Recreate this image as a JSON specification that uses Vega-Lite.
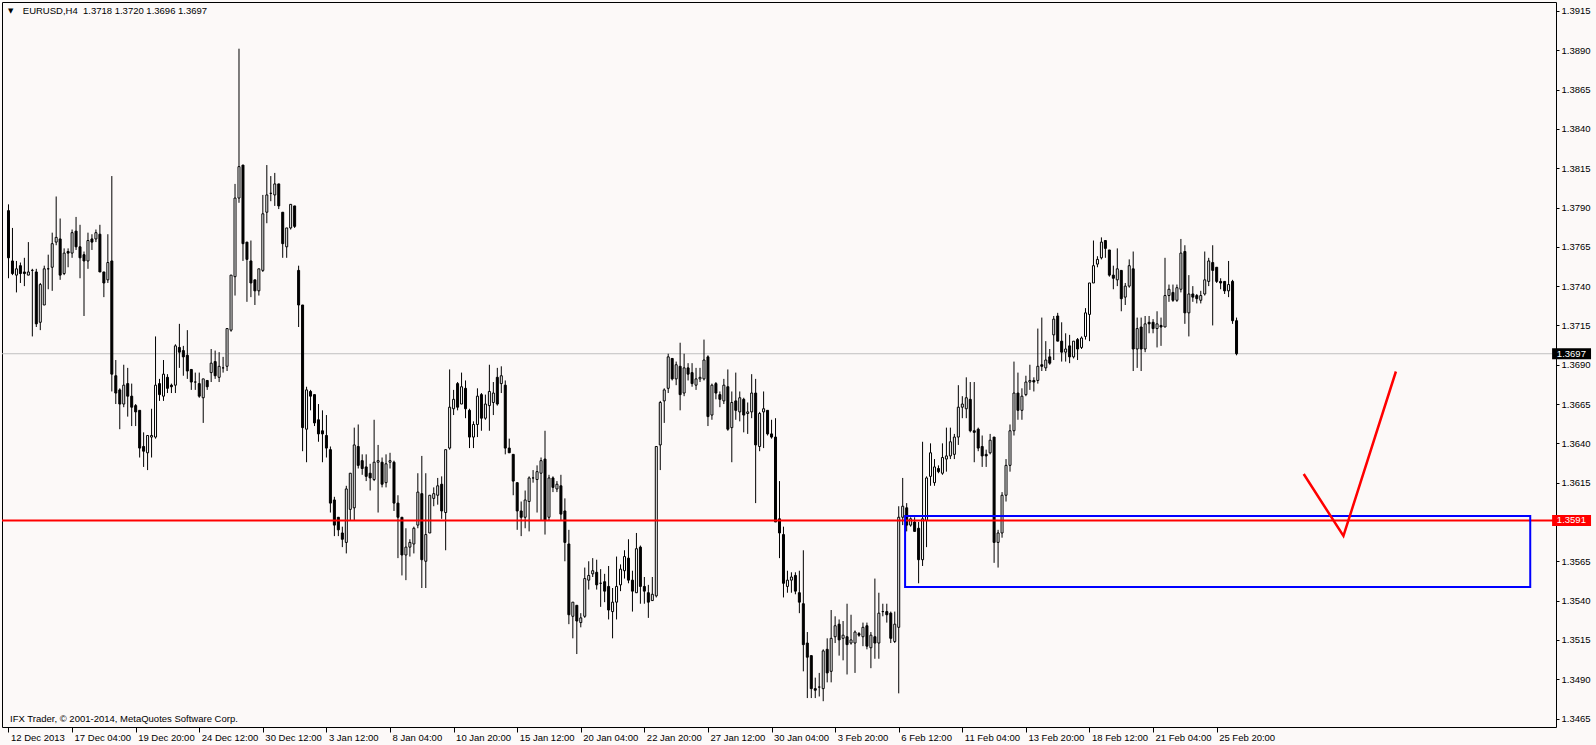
{
"$schema": "https://vega.github.io/schema/vega-lite/v6.json",
"width": 1554,
"height": 725,
"autosize": {"type": "none"},
"padding": {"left": 2, "top": 2, "right": 40, "bottom": 18},
"background": "#fcf9f8",
"config": {
  "font": "Liberation Sans",
  "view": {"stroke": "#000000", "strokeWidth": 1, "fill": "#fcf9f8"},
  "axis": {"grid": false, "domain": false, "labelFont": "Liberation Sans", "labelFontSize": 9.5, "labelColor": "#000000", "tickColor": "#000000", "title": null}
},
"datasets": {
  "bars": [
{"i":0,"o":1.3788,"h":1.3792,"l":1.3745,"c":1.3758},
{"i":1,"o":1.3756,"h":1.3777,"l":1.3747,"c":1.3748},
{"i":2,"o":1.3747,"h":1.3756,"l":1.3736,"c":1.3751},
{"i":3,"o":1.3753,"h":1.3755,"l":1.3742,"c":1.3748},
{"i":4,"o":1.3749,"h":1.3758,"l":1.3740,"c":1.3748},
{"i":5,"o":1.3747,"h":1.3768,"l":1.3747,"c":1.3749},
{"i":6,"o":1.3750,"h":1.3751,"l":1.3708,"c":1.3750},
{"i":7,"o":1.3749,"h":1.3751,"l":1.3714,"c":1.3716},
{"i":8,"o":1.3717,"h":1.3742,"l":1.3712,"c":1.3741},
{"i":9,"o":1.3728,"h":1.3753,"l":1.3728,"c":1.3751},
{"i":10,"o":1.3751,"h":1.3760,"l":1.3738,"c":1.3751},
{"i":11,"o":1.3752,"h":1.3774,"l":1.3737,"c":1.3767},
{"i":12,"o":1.3768,"h":1.3797,"l":1.3766,"c":1.3771},
{"i":13,"o":1.3770,"h":1.3783,"l":1.3744,"c":1.3747},
{"i":14,"o":1.3748,"h":1.3764,"l":1.3747,"c":1.3761},
{"i":15,"o":1.3762,"h":1.3764,"l":1.3752,"c":1.3761},
{"i":16,"o":1.3761,"h":1.3776,"l":1.3758,"c":1.3774},
{"i":17,"o":1.3775,"h":1.3784,"l":1.3763,"c":1.3765},
{"i":18,"o":1.3765,"h":1.3779,"l":1.3745,"c":1.3758},
{"i":19,"o":1.3760,"h":1.3762,"l":1.3721,"c":1.3756},
{"i":20,"o":1.3756,"h":1.3774,"l":1.3751,"c":1.3769},
{"i":21,"o":1.3770,"h":1.3773,"l":1.3763,"c":1.3768},
{"i":22,"o":1.3770,"h":1.3776,"l":1.3768,"c":1.3774},
{"i":23,"o":1.3773,"h":1.3779,"l":1.3749,"c":1.3749},
{"i":24,"o":1.3749,"h":1.3749,"l":1.3733,"c":1.3742},
{"i":25,"o":1.3744,"h":1.3773,"l":1.3742,"c":1.3755},
{"i":26,"o":1.3756,"h":1.3810,"l":1.3673,"c":1.3684},
{"i":27,"o":1.3683,"h":1.3693,"l":1.3665,"c":1.3672},
{"i":28,"o":1.3674,"h":1.3675,"l":1.3649,"c":1.3665},
{"i":29,"o":1.3665,"h":1.3690,"l":1.3663,"c":1.3677},
{"i":30,"o":1.3678,"h":1.3688,"l":1.3657,"c":1.3670},
{"i":31,"o":1.3670,"h":1.3678,"l":1.3651,"c":1.3663},
{"i":32,"o":1.3664,"h":1.3665,"l":1.3651,"c":1.3660},
{"i":33,"o":1.3661,"h":1.3661,"l":1.3631,"c":1.3637},
{"i":34,"o":1.3638,"h":1.3647,"l":1.3625,"c":1.3635},
{"i":35,"o":1.3634,"h":1.3645,"l":1.3623,"c":1.3645},
{"i":36,"o":1.3644,"h":1.3662,"l":1.3631,"c":1.3645},
{"i":37,"o":1.3644,"h":1.3708,"l":1.3643,"c":1.3677},
{"i":38,"o":1.3678,"h":1.3681,"l":1.3667,"c":1.3671},
{"i":39,"o":1.3670,"h":1.3693,"l":1.3667,"c":1.3684},
{"i":40,"o":1.3682,"h":1.3684,"l":1.3672,"c":1.3675},
{"i":41,"o":1.3677,"h":1.3678,"l":1.3672,"c":1.3676},
{"i":42,"o":1.3677,"h":1.3703,"l":1.3672,"c":1.3702},
{"i":43,"o":1.3701,"h":1.3716,"l":1.3688,"c":1.3698},
{"i":44,"o":1.3699,"h":1.3702,"l":1.3683,"c":1.3695},
{"i":45,"o":1.3696,"h":1.3712,"l":1.3681,"c":1.3686},
{"i":46,"o":1.3687,"h":1.3687,"l":1.3674,"c":1.3679},
{"i":47,"o":1.3679,"h":1.3685,"l":1.3674,"c":1.3679},
{"i":48,"o":1.3678,"h":1.3685,"l":1.3669,"c":1.3670},
{"i":49,"o":1.3669,"h":1.3681,"l":1.3653,"c":1.3681},
{"i":50,"o":1.3680,"h":1.3680,"l":1.3674,"c":1.3676},
{"i":51,"o":1.3685,"h":1.3700,"l":1.3679,"c":1.3691},
{"i":52,"o":1.3692,"h":1.3699,"l":1.3681,"c":1.3683},
{"i":53,"o":1.3682,"h":1.3698,"l":1.3679,"c":1.3689},
{"i":54,"o":1.3688,"h":1.3695,"l":1.3685,"c":1.3688},
{"i":55,"o":1.3689,"h":1.3713,"l":1.3686,"c":1.3713},
{"i":56,"o":1.3712,"h":1.3747,"l":1.3711,"c":1.3747},
{"i":57,"o":1.3746,"h":1.3805,"l":1.3734,"c":1.3796},
{"i":58,"o":1.3796,"h":1.3891,"l":1.3793,"c":1.3816},
{"i":59,"o":1.3817,"h":1.3817,"l":1.3756,"c":1.3767},
{"i":60,"o":1.3768,"h":1.3768,"l":1.3730,"c":1.3757},
{"i":61,"o":1.3756,"h":1.3769,"l":1.3733,"c":1.3742},
{"i":62,"o":1.3744,"h":1.3744,"l":1.3728,"c":1.3737},
{"i":63,"o":1.3737,"h":1.3751,"l":1.3734,"c":1.3751},
{"i":64,"o":1.3750,"h":1.3798,"l":1.3749,"c":1.3786},
{"i":65,"o":1.3787,"h":1.3817,"l":1.3780,"c":1.3798},
{"i":66,"o":1.3799,"h":1.3810,"l":1.3794,"c":1.3799},
{"i":67,"o":1.3798,"h":1.3812,"l":1.3791,"c":1.3805},
{"i":68,"o":1.3805,"h":1.3805,"l":1.3789,"c":1.3791},
{"i":69,"o":1.3787,"h":1.3787,"l":1.3758,"c":1.3767},
{"i":70,"o":1.3765,"h":1.3777,"l":1.3758,"c":1.3777},
{"i":71,"o":1.3777,"h":1.3792,"l":1.3776,"c":1.3792},
{"i":72,"o":1.3791,"h":1.3791,"l":1.3777,"c":1.3778},
{"i":73,"o":1.3750,"h":1.3753,"l":1.3714,"c":1.3728},
{"i":74,"o":1.3728,"h":1.3728,"l":1.3635,"c":1.3650},
{"i":75,"o":1.3649,"h":1.3676,"l":1.3628,"c":1.3674},
{"i":76,"o":1.3673,"h":1.3674,"l":1.3661,"c":1.3670},
{"i":77,"o":1.3671,"h":1.3671,"l":1.3651,"c":1.3653},
{"i":78,"o":1.3655,"h":1.3665,"l":1.3641,"c":1.3646},
{"i":79,"o":1.3648,"h":1.3661,"l":1.3628,"c":1.3646},
{"i":80,"o":1.3645,"h":1.3658,"l":1.3631,"c":1.3637},
{"i":81,"o":1.3636,"h":1.3638,"l":1.3596,"c":1.3602},
{"i":82,"o":1.3604,"h":1.3606,"l":1.3581,"c":1.3588},
{"i":83,"o":1.3593,"h":1.3593,"l":1.3581,"c":1.3585},
{"i":84,"o":1.3583,"h":1.3587,"l":1.3574,"c":1.3579},
{"i":85,"o":1.3577,"h":1.3613,"l":1.3570,"c":1.3611},
{"i":86,"o":1.3598,"h":1.3621,"l":1.3591,"c":1.3621},
{"i":87,"o":1.3599,"h":1.3650,"l":1.3591,"c":1.3639},
{"i":88,"o":1.3638,"h":1.3652,"l":1.3624,"c":1.3626},
{"i":89,"o":1.3629,"h":1.3633,"l":1.3620,"c":1.3624},
{"i":90,"o":1.3625,"h":1.3633,"l":1.3616,"c":1.3619},
{"i":91,"o":1.3621,"h":1.3627,"l":1.3610,"c":1.3618},
{"i":92,"o":1.3617,"h":1.3655,"l":1.3616,"c":1.3628},
{"i":93,"o":1.3628,"h":1.3639,"l":1.3596,"c":1.3629},
{"i":94,"o":1.3628,"h":1.3631,"l":1.3612,"c":1.3614},
{"i":95,"o":1.3615,"h":1.3633,"l":1.3612,"c":1.3627},
{"i":96,"o":1.3628,"h":1.3634,"l":1.3624,"c":1.3629},
{"i":97,"o":1.3628,"h":1.3629,"l":1.3597,"c":1.3602},
{"i":98,"o":1.3602,"h":1.3607,"l":1.3567,"c":1.3593},
{"i":99,"o":1.3593,"h":1.3593,"l":1.3556,"c":1.3569},
{"i":100,"o":1.3569,"h":1.3586,"l":1.3553,"c":1.3574},
{"i":101,"o":1.3574,"h":1.3579,"l":1.3568,"c":1.3577},
{"i":102,"o":1.3576,"h":1.3587,"l":1.3570,"c":1.3586},
{"i":103,"o":1.3588,"h":1.3621,"l":1.3586,"c":1.3609},
{"i":104,"o":1.3608,"h":1.3632,"l":1.3548,"c":1.3566},
{"i":105,"o":1.3565,"h":1.3621,"l":1.3548,"c":1.3582},
{"i":106,"o":1.3583,"h":1.3607,"l":1.3583,"c":1.3607},
{"i":107,"o":1.3605,"h":1.3612,"l":1.3600,"c":1.3608},
{"i":108,"o":1.3607,"h":1.3618,"l":1.3601,"c":1.3613},
{"i":109,"o":1.3614,"h":1.3619,"l":1.3592,"c":1.3597},
{"i":110,"o":1.3596,"h":1.3636,"l":1.3572,"c":1.3636},
{"i":111,"o":1.3637,"h":1.3687,"l":1.3636,"c":1.3663},
{"i":112,"o":1.3662,"h":1.3674,"l":1.3658,"c":1.3668},
{"i":113,"o":1.3678,"h":1.3679,"l":1.3661,"c":1.3663},
{"i":114,"o":1.3665,"h":1.3685,"l":1.3665,"c":1.3676},
{"i":115,"o":1.3675,"h":1.3680,"l":1.3656,"c":1.3662},
{"i":116,"o":1.3661,"h":1.3662,"l":1.3637,"c":1.3644},
{"i":117,"o":1.3644,"h":1.3654,"l":1.3637,"c":1.3652},
{"i":118,"o":1.3652,"h":1.3675,"l":1.3644,"c":1.3670},
{"i":119,"o":1.3671,"h":1.3672,"l":1.3648,"c":1.3656},
{"i":120,"o":1.3656,"h":1.3671,"l":1.3655,"c":1.3665},
{"i":121,"o":1.3664,"h":1.3690,"l":1.3648,"c":1.3673},
{"i":122,"o":1.3666,"h":1.3679,"l":1.3658,"c":1.3672},
{"i":123,"o":1.3682,"h":1.3688,"l":1.3664,"c":1.3665},
{"i":124,"o":1.3678,"h":1.3689,"l":1.3672,"c":1.3683},
{"i":125,"o":1.3677,"h":1.3680,"l":1.3633,"c":1.3637},
{"i":126,"o":1.3637,"h":1.3643,"l":1.3634,"c":1.3634},
{"i":127,"o":1.3633,"h":1.3633,"l":1.3607,"c":1.3616},
{"i":128,"o":1.3615,"h":1.3615,"l":1.3585,"c":1.3597},
{"i":129,"o":1.3597,"h":1.3603,"l":1.3581,"c":1.3593},
{"i":130,"o":1.3593,"h":1.3610,"l":1.3586,"c":1.3604},
{"i":131,"o":1.3603,"h":1.3619,"l":1.3584,"c":1.3618},
{"i":132,"o":1.3618,"h":1.3623,"l":1.3615,"c":1.3618},
{"i":133,"o":1.3617,"h":1.3626,"l":1.3596,"c":1.3622},
{"i":134,"o":1.3621,"h":1.3631,"l":1.3591,"c":1.3629},
{"i":135,"o":1.3630,"h":1.3648,"l":1.3582,"c":1.3591},
{"i":136,"o":1.3593,"h":1.3620,"l":1.3591,"c":1.3618},
{"i":137,"o":1.3618,"h":1.3619,"l":1.3609,"c":1.3612},
{"i":138,"o":1.3611,"h":1.3616,"l":1.3609,"c":1.3614},
{"i":139,"o":1.3613,"h":1.3620,"l":1.3591,"c":1.3595},
{"i":140,"o":1.3597,"h":1.3605,"l":1.3565,"c":1.3577},
{"i":141,"o":1.3576,"h":1.3585,"l":1.3525,"c":1.3531},
{"i":142,"o":1.3530,"h":1.3539,"l":1.3516,"c":1.3539},
{"i":143,"o":1.3537,"h":1.3537,"l":1.3506,"c":1.3527},
{"i":144,"o":1.3526,"h":1.3532,"l":1.3523,"c":1.3529},
{"i":145,"o":1.3530,"h":1.3561,"l":1.3529,"c":1.3554},
{"i":146,"o":1.3553,"h":1.3565,"l":1.3547,"c":1.3556},
{"i":147,"o":1.3557,"h":1.3567,"l":1.3555,"c":1.3559},
{"i":148,"o":1.3558,"h":1.3566,"l":1.3547,"c":1.3550},
{"i":149,"o":1.3551,"h":1.3560,"l":1.3536,"c":1.3551},
{"i":150,"o":1.3552,"h":1.3557,"l":1.3539,"c":1.3546},
{"i":151,"o":1.3549,"h":1.3562,"l":1.3528,"c":1.3534},
{"i":152,"o":1.3533,"h":1.3548,"l":1.3516,"c":1.3539},
{"i":153,"o":1.3539,"h":1.3568,"l":1.3528,"c":1.3549},
{"i":154,"o":1.3550,"h":1.3563,"l":1.3546,"c":1.3560},
{"i":155,"o":1.3559,"h":1.3572,"l":1.3554,"c":1.3568},
{"i":156,"o":1.3567,"h":1.3579,"l":1.3551,"c":1.3553},
{"i":157,"o":1.3553,"h":1.3559,"l":1.3533,"c":1.3546},
{"i":158,"o":1.3545,"h":1.3583,"l":1.3545,"c":1.3573},
{"i":159,"o":1.3574,"h":1.3575,"l":1.3538,"c":1.3549},
{"i":160,"o":1.3549,"h":1.3555,"l":1.3538,"c":1.3546},
{"i":161,"o":1.3545,"h":1.3550,"l":1.3529,"c":1.3539},
{"i":162,"o":1.3540,"h":1.3555,"l":1.3540,"c":1.3544},
{"i":163,"o":1.3543,"h":1.3638,"l":1.3542,"c":1.3638},
{"i":164,"o":1.3639,"h":1.3667,"l":1.3623,"c":1.3666},
{"i":165,"o":1.3667,"h":1.3675,"l":1.3653,"c":1.3674},
{"i":166,"o":1.3675,"h":1.3697,"l":1.3672,"c":1.3695},
{"i":167,"o":1.3694,"h":1.3694,"l":1.3680,"c":1.3681},
{"i":168,"o":1.3681,"h":1.3692,"l":1.3677,"c":1.3690},
{"i":169,"o":1.3689,"h":1.3704,"l":1.3661,"c":1.3671},
{"i":170,"o":1.3672,"h":1.3697,"l":1.3670,"c":1.3688},
{"i":171,"o":1.3688,"h":1.3691,"l":1.3680,"c":1.3684},
{"i":172,"o":1.3685,"h":1.3691,"l":1.3676,"c":1.3678},
{"i":173,"o":1.3677,"h":1.3688,"l":1.3674,"c":1.3681},
{"i":174,"o":1.3681,"h":1.3688,"l":1.3679,"c":1.3682},
{"i":175,"o":1.3681,"h":1.3706,"l":1.3680,"c":1.3693},
{"i":176,"o":1.3695,"h":1.3696,"l":1.3651,"c":1.3657},
{"i":177,"o":1.3658,"h":1.3678,"l":1.3655,"c":1.3677},
{"i":178,"o":1.3678,"h":1.3679,"l":1.3668,"c":1.3672},
{"i":179,"o":1.3671,"h":1.3673,"l":1.3663,"c":1.3668},
{"i":180,"o":1.3667,"h":1.3681,"l":1.3665,"c":1.3677},
{"i":181,"o":1.3676,"h":1.3687,"l":1.3648,"c":1.3649},
{"i":182,"o":1.3650,"h":1.3673,"l":1.3628,"c":1.3666},
{"i":183,"o":1.3667,"h":1.3685,"l":1.3655,"c":1.3661},
{"i":184,"o":1.3660,"h":1.3673,"l":1.3654,"c":1.3669},
{"i":185,"o":1.3668,"h":1.3669,"l":1.3647,"c":1.3658},
{"i":186,"o":1.3659,"h":1.3666,"l":1.3646,"c":1.3660},
{"i":187,"o":1.3660,"h":1.3684,"l":1.3656,"c":1.3672},
{"i":188,"o":1.3672,"h":1.3681,"l":1.3602,"c":1.3639},
{"i":189,"o":1.3638,"h":1.3660,"l":1.3635,"c":1.3659},
{"i":190,"o":1.3660,"h":1.3673,"l":1.3637,"c":1.3662},
{"i":191,"o":1.3661,"h":1.3661,"l":1.3645,"c":1.3646},
{"i":192,"o":1.3646,"h":1.3655,"l":1.3643,"c":1.3644},
{"i":193,"o":1.3644,"h":1.3656,"l":1.3590,"c":1.3590},
{"i":194,"o":1.3592,"h":1.3616,"l":1.3567,"c":1.3583},
{"i":195,"o":1.3582,"h":1.3587,"l":1.3542,"c":1.3551},
{"i":196,"o":1.3549,"h":1.3559,"l":1.3545,"c":1.3553},
{"i":197,"o":1.3553,"h":1.3558,"l":1.3545,"c":1.3555},
{"i":198,"o":1.3556,"h":1.3558,"l":1.3544,"c":1.3546},
{"i":199,"o":1.3545,"h":1.3559,"l":1.3532,"c":1.3539},
{"i":200,"o":1.3538,"h":1.3572,"l":1.3495,"c":1.3512},
{"i":201,"o":1.3513,"h":1.3520,"l":1.3478,"c":1.3504},
{"i":202,"o":1.3505,"h":1.3505,"l":1.3478,"c":1.3484},
{"i":203,"o":1.3484,"h":1.3491,"l":1.3478,"c":1.3483},
{"i":204,"o":1.3485,"h":1.3494,"l":1.3479,"c":1.3485},
{"i":205,"o":1.3484,"h":1.3509,"l":1.3476,"c":1.3508},
{"i":206,"o":1.3509,"h":1.3516,"l":1.3488,"c":1.3494},
{"i":207,"o":1.3495,"h":1.3534,"l":1.3488,"c":1.3516},
{"i":208,"o":1.3517,"h":1.3530,"l":1.3513,"c":1.3524},
{"i":209,"o":1.3525,"h":1.3528,"l":1.3505,"c":1.3515},
{"i":210,"o":1.3516,"h":1.3527,"l":1.3502,"c":1.3518},
{"i":211,"o":1.3517,"h":1.3538,"l":1.3493,"c":1.3512},
{"i":212,"o":1.3513,"h":1.3531,"l":1.3512,"c":1.3515},
{"i":213,"o":1.3513,"h":1.3521,"l":1.3494,"c":1.3520},
{"i":214,"o":1.3519,"h":1.3520,"l":1.3517,"c":1.3518},
{"i":215,"o":1.3517,"h":1.3526,"l":1.3511,"c":1.3523},
{"i":216,"o":1.3524,"h":1.3526,"l":1.3509,"c":1.3511},
{"i":217,"o":1.3510,"h":1.3520,"l":1.3497,"c":1.3518},
{"i":218,"o":1.3517,"h":1.3554,"l":1.3503,"c":1.3513},
{"i":219,"o":1.3513,"h":1.3545,"l":1.3503,"c":1.3532},
{"i":220,"o":1.3533,"h":1.3538,"l":1.3530,"c":1.3533},
{"i":221,"o":1.3533,"h":1.3538,"l":1.3526,"c":1.3531},
{"i":222,"o":1.3532,"h":1.3533,"l":1.3513,"c":1.3516},
{"i":223,"o":1.3514,"h":1.3533,"l":1.3513,"c":1.3525},
{"i":224,"o":1.3523,"h":1.3600,"l":1.3481,"c":1.3593},
{"i":225,"o":1.3593,"h":1.3618,"l":1.3588,"c":1.3600},
{"i":226,"o":1.3599,"h":1.3602,"l":1.3584,"c":1.3588},
{"i":227,"o":1.3588,"h":1.3593,"l":1.3587,"c":1.3592},
{"i":228,"o":1.3590,"h":1.3593,"l":1.3584,"c":1.3584},
{"i":229,"o":1.3586,"h":1.3590,"l":1.3551,"c":1.3566},
{"i":230,"o":1.3566,"h":1.3641,"l":1.3562,"c":1.3592},
{"i":231,"o":1.3591,"h":1.3619,"l":1.3574,"c":1.3618},
{"i":232,"o":1.3619,"h":1.3640,"l":1.3613,"c":1.3634},
{"i":233,"o":1.3615,"h":1.3630,"l":1.3613,"c":1.3625},
{"i":234,"o":1.3624,"h":1.3626,"l":1.3621,"c":1.3622},
{"i":235,"o":1.3621,"h":1.3640,"l":1.3620,"c":1.3631},
{"i":236,"o":1.3630,"h":1.3650,"l":1.3622,"c":1.3632},
{"i":237,"o":1.3632,"h":1.3650,"l":1.3630,"c":1.3641},
{"i":238,"o":1.3633,"h":1.3646,"l":1.3630,"c":1.3644},
{"i":239,"o":1.3644,"h":1.3677,"l":1.3639,"c":1.3663},
{"i":240,"o":1.3663,"h":1.3670,"l":1.3656,"c":1.3665},
{"i":241,"o":1.3662,"h":1.3682,"l":1.3656,"c":1.3669},
{"i":242,"o":1.3668,"h":1.3679,"l":1.3647,"c":1.3648},
{"i":243,"o":1.3648,"h":1.3679,"l":1.3628,"c":1.3647},
{"i":244,"o":1.3649,"h":1.3650,"l":1.3635,"c":1.3637},
{"i":245,"o":1.3638,"h":1.3645,"l":1.3625,"c":1.3632},
{"i":246,"o":1.3633,"h":1.3636,"l":1.3625,"c":1.3632},
{"i":247,"o":1.3634,"h":1.3646,"l":1.3633,"c":1.3642},
{"i":248,"o":1.3644,"h":1.3644,"l":1.3564,"c":1.3577},
{"i":249,"o":1.3577,"h":1.3585,"l":1.3561,"c":1.3583},
{"i":250,"o":1.3583,"h":1.3609,"l":1.3580,"c":1.3607},
{"i":251,"o":1.3607,"h":1.3630,"l":1.3603,"c":1.3626},
{"i":252,"o":1.3626,"h":1.3652,"l":1.3622,"c":1.3648},
{"i":253,"o":1.3648,"h":1.3692,"l":1.3645,"c":1.3672},
{"i":254,"o":1.3672,"h":1.3685,"l":1.3655,"c":1.3661},
{"i":255,"o":1.3661,"h":1.3675,"l":1.3655,"c":1.3670},
{"i":256,"o":1.3671,"h":1.3683,"l":1.3670,"c":1.3679},
{"i":257,"o":1.3679,"h":1.3690,"l":1.3674,"c":1.3680},
{"i":258,"o":1.3680,"h":1.3682,"l":1.3673,"c":1.3679},
{"i":259,"o":1.3680,"h":1.3713,"l":1.3678,"c":1.3689},
{"i":260,"o":1.3690,"h":1.3720,"l":1.3686,"c":1.3689},
{"i":261,"o":1.3688,"h":1.3705,"l":1.3686,"c":1.3693},
{"i":262,"o":1.3695,"h":1.3700,"l":1.3690,"c":1.3691},
{"i":263,"o":1.3709,"h":1.3721,"l":1.3693,"c":1.3719},
{"i":264,"o":1.3721,"h":1.3723,"l":1.3705,"c":1.3705},
{"i":265,"o":1.3705,"h":1.3717,"l":1.3692,"c":1.3698},
{"i":266,"o":1.3698,"h":1.3710,"l":1.3692,"c":1.3700},
{"i":267,"o":1.3702,"h":1.3709,"l":1.3691,"c":1.3695},
{"i":268,"o":1.3695,"h":1.3705,"l":1.3694,"c":1.3705},
{"i":269,"o":1.3706,"h":1.3707,"l":1.3693,"c":1.3700},
{"i":270,"o":1.3701,"h":1.3708,"l":1.3700,"c":1.3707},
{"i":271,"o":1.3708,"h":1.3726,"l":1.3706,"c":1.3723},
{"i":272,"o":1.3722,"h":1.3742,"l":1.3705,"c":1.3742},
{"i":273,"o":1.3742,"h":1.3769,"l":1.3742,"c":1.3753},
{"i":274,"o":1.3754,"h":1.3759,"l":1.3752,"c":1.3757},
{"i":275,"o":1.3758,"h":1.3771,"l":1.3757,"c":1.3768},
{"i":276,"o":1.3769,"h":1.3769,"l":1.3758,"c":1.3764},
{"i":277,"o":1.3763,"h":1.3763,"l":1.3746,"c":1.3747},
{"i":278,"o":1.3747,"h":1.3753,"l":1.3738,"c":1.3745},
{"i":279,"o":1.3744,"h":1.3764,"l":1.3740,"c":1.3751},
{"i":280,"o":1.3750,"h":1.3750,"l":1.3724,"c":1.3732},
{"i":281,"o":1.3733,"h":1.3742,"l":1.3728,"c":1.3740},
{"i":282,"o":1.3740,"h":1.3757,"l":1.3739,"c":1.3753},
{"i":283,"o":1.3751,"h":1.3762,"l":1.3686,"c":1.3700},
{"i":284,"o":1.3700,"h":1.3720,"l":1.3688,"c":1.3713},
{"i":285,"o":1.3714,"h":1.3720,"l":1.3686,"c":1.3700},
{"i":286,"o":1.3700,"h":1.3721,"l":1.3698,"c":1.3716},
{"i":287,"o":1.3717,"h":1.3721,"l":1.3710,"c":1.3716},
{"i":288,"o":1.3717,"h":1.3719,"l":1.3710,"c":1.3713},
{"i":289,"o":1.3713,"h":1.3724,"l":1.3701,"c":1.3716},
{"i":290,"o":1.3715,"h":1.3720,"l":1.3702,"c":1.3714},
{"i":291,"o":1.3714,"h":1.3758,"l":1.3714,"c":1.3734},
{"i":292,"o":1.3734,"h":1.3741,"l":1.3730,"c":1.3738},
{"i":293,"o":1.3736,"h":1.3741,"l":1.3730,"c":1.3731},
{"i":294,"o":1.3731,"h":1.3741,"l":1.3730,"c":1.3739},
{"i":295,"o":1.3738,"h":1.3770,"l":1.3736,"c":1.3761},
{"i":296,"o":1.3762,"h":1.3766,"l":1.3716,"c":1.3723},
{"i":297,"o":1.3723,"h":1.3747,"l":1.3708,"c":1.3735},
{"i":298,"o":1.3735,"h":1.3740,"l":1.3730,"c":1.3733},
{"i":299,"o":1.3734,"h":1.3735,"l":1.3729,"c":1.3732},
{"i":300,"o":1.3731,"h":1.3737,"l":1.3729,"c":1.3734},
{"i":301,"o":1.3735,"h":1.3762,"l":1.3734,"c":1.3744},
{"i":302,"o":1.3743,"h":1.3758,"l":1.3740,"c":1.3756},
{"i":303,"o":1.3755,"h":1.3766,"l":1.3715,"c":1.3750},
{"i":304,"o":1.3752,"h":1.3752,"l":1.3742,"c":1.3743},
{"i":305,"o":1.3743,"h":1.3745,"l":1.3738,"c":1.3742},
{"i":306,"o":1.3743,"h":1.3743,"l":1.3735,"c":1.3737},
{"i":307,"o":1.3737,"h":1.3756,"l":1.3733,"c":1.3741},
{"i":308,"o":1.3743,"h":1.3744,"l":1.3716,"c":1.3718},
{"i":309,"o":1.3718,"h":1.3720,"l":1.3696,"c":1.3697}
  ],
  "vee": [
    {"i": 325.9, "p": 1.36205},
    {"i": 335.9, "p": 1.35811},
    {"i": 349.1, "p": 1.36857}
  ],
  "zone": [
    {"i1": 225.6, "i2": 382.9, "p1": 1.35938, "p2": 1.35487}
  ],
  "one": [{}]
},
"layer": [
  {
    "data": {"name": "one"},
    "mark": {"type": "rule", "color": "#c0c0c0", "strokeWidth": 1},
    "encoding": {
      "y": {"datum": 1.3697, "type": "quantitative", "scale": {"domain": [1.34596, 1.39207], "nice": false, "zero": false}}
    }
  },
  {
    "data": {"name": "bars"},
    "mark": {"type": "rule", "color": "#000000", "strokeWidth": 1},
    "encoding": {
      "x": {"field": "i", "type": "quantitative", "scale": {"domain": [-0.375, 388.125], "nice": false, "zero": false},
        "axis": {"orient": "bottom", "values": [0,16,32,48,64,80,96,112,128,144,160,176,192,208,224,240,256,272,288,304],
          "labelExpr": "['12 Dec 2013','17 Dec 04:00','19 Dec 20:00','24 Dec 12:00','30 Dec 12:00','3 Jan 12:00','8 Jan 04:00','10 Jan 20:00','15 Jan 12:00','20 Jan 04:00','22 Jan 20:00','27 Jan 12:00','30 Jan 04:00','3 Feb 20:00','6 Feb 12:00','11 Feb 04:00','13 Feb 20:00','18 Feb 12:00','21 Feb 04:00','25 Feb 20:00'][round(datum.value/16)]",
          "labelAlign": "left", "labelBaseline": "top", "labelPadding": 0, "labelOffset": 2, "tickSize": 5, "labelFlush": false, "labelOverlap": false, "labelBound": false, "title": null}},
      "y": {"field": "l", "type": "quantitative", "scale": {"domain": [1.34596, 1.39207], "nice": false, "zero": false},
        "axis": {"orient": "right", "values": [1.3465,1.349,1.3515,1.354,1.3565,1.3615,1.364,1.3665,1.369,1.3715,1.374,1.3765,1.379,1.3815,1.384,1.3865,1.389,1.3915],
          "format": ".4f", "tickSize": 3, "labelPadding": 2, "labelFlush": false, "labelOverlap": false, "labelBound": false, "title": null}},
      "y2": {"field": "h"}
    }
  },
  {
    "data": {"name": "bars"},
    "mark": {"type": "bar", "orient": "vertical", "width": 2, "stroke": "#000000", "strokeWidth": 1},
    "encoding": {
      "x": {"field": "i", "type": "quantitative", "scale": {"domain": [-0.375, 388.125], "nice": false, "zero": false}},
      "y": {"field": "o", "type": "quantitative", "scale": {"domain": [1.34596, 1.39207], "nice": false, "zero": false}},
      "y2": {"field": "c"},
      "fill": {"condition": {"test": "datum.c < datum.o", "value": "#000000"}, "value": "#ffffff"}
    }
  },
  {
    "data": {"name": "one"},
    "mark": {"type": "rule", "color": "#ff0000", "strokeWidth": 2},
    "encoding": {
      "y": {"datum": 1.3591, "type": "quantitative"}
    }
  },
  {
    "data": {"name": "zone"},
    "mark": {"type": "rect", "fill": null, "fillOpacity": 0, "stroke": "#0000ff", "strokeWidth": 2},
    "encoding": {
      "x": {"field": "i1", "type": "quantitative"},
      "x2": {"field": "i2"},
      "y": {"field": "p1", "type": "quantitative"},
      "y2": {"field": "p2"}
    }
  },
  {
    "data": {"name": "vee"},
    "mark": {"type": "line", "color": "#ff0000", "strokeWidth": 2.5},
    "encoding": {
      "x": {"field": "i", "type": "quantitative"},
      "y": {"field": "p", "type": "quantitative"}
    }
  },
  {
    "data": {"name": "one"},
    "mark": {"type": "rect", "fill": "#000000"},
    "encoding": {
      "x": {"datum": 388.4, "type": "quantitative"},
      "x2": {"datum": 398.2},
      "y": {"datum": 1.36935, "type": "quantitative"},
      "y2": {"datum": 1.37005}
    }
  },
  {
    "data": {"name": "one"},
    "mark": {"type": "rect", "fill": "#ff0000"},
    "encoding": {
      "x": {"datum": 388.4, "type": "quantitative"},
      "x2": {"datum": 398.2},
      "y": {"datum": 1.35875, "type": "quantitative"},
      "y2": {"datum": 1.35945}
    }
  },
  {
    "data": {"name": "one"},
    "mark": {"type": "text", "color": "#ffffff", "align": "left", "baseline": "middle", "font": "Liberation Sans", "fontSize": 9.5},
    "encoding": {
      "x": {"datum": 389.6, "type": "quantitative"},
      "y": {"datum": 1.3697, "type": "quantitative"},
      "text": {"value": "1.3697"}
    }
  },
  {
    "data": {"name": "one"},
    "mark": {"type": "text", "color": "#ffffff", "align": "left", "baseline": "middle", "font": "Liberation Sans", "fontSize": 9.5},
    "encoding": {
      "x": {"datum": 389.6, "type": "quantitative"},
      "y": {"datum": 1.3591, "type": "quantitative"},
      "text": {"value": "1.3591"}
    }
  },
  {
    "data": {"name": "one"},
    "mark": {"type": "text", "color": "#000000", "align": "center", "baseline": "middle", "font": "DejaVu Sans", "fontSize": 7},
    "encoding": {
      "x": {"datum": 0.55, "type": "quantitative"},
      "y": {"datum": 1.3915, "type": "quantitative"},
      "text": {"value": "▼"}
    }
  },
  {
    "data": {"name": "one"},
    "mark": {"type": "text", "color": "#000000", "align": "left", "baseline": "middle", "font": "Liberation Sans", "fontSize": 9.5},
    "encoding": {
      "x": {"datum": 3.6, "type": "quantitative"},
      "y": {"datum": 1.3915, "type": "quantitative"},
      "text": {"value": "EURUSD,H4\u00a0\u00a01.3718 1.3720 1.3696 1.3697"}
    }
  },
  {
    "data": {"name": "one"},
    "mark": {"type": "text", "color": "#000000", "align": "left", "baseline": "middle", "font": "Liberation Sans", "fontSize": 9.5},
    "encoding": {
      "x": {"datum": 0.4, "type": "quantitative"},
      "y": {"datum": 1.34647, "type": "quantitative"},
      "text": {"value": "IFX Trader, © 2001-2014, MetaQuotes Software Corp."}
    }
  }
]
}
